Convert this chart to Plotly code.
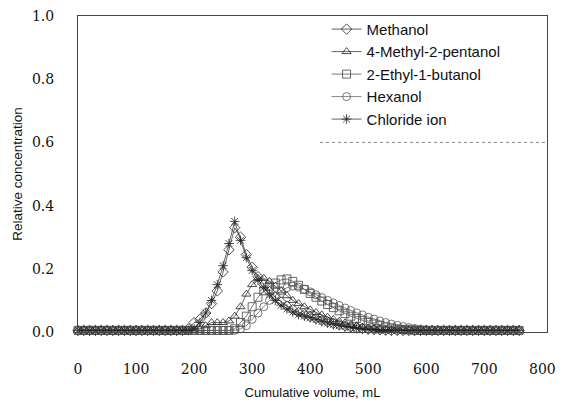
import plotly.graph_objects as go

volume = [0, 10, 20, 30, 40, 50, 60, 70, 80, 90, 100, 110, 120, 130, 140, 150, 160, 170, 180,
          190, 200, 210, 220, 230, 240, 250, 260, 270, 280, 290, 300, 310, 320, 330, 340, 350,
          360, 370, 380, 390, 400, 410, 420, 430, 440, 450, 460, 470, 480, 490, 500, 510, 520,
          530, 540, 550, 560, 570, 580, 590, 600, 610, 620, 630, 640, 650, 660, 670, 680, 690,
          700, 710, 720, 730, 740, 750, 760]

base = [0.005] * 19

methanol = base + [0.01, 0.03, 0.04, 0.06, 0.09, 0.13, 0.19, 0.26, 0.33, 0.30, 0.245, 0.205,
                   0.175, 0.15, 0.128, 0.11, 0.095, 0.082, 0.071, 0.062, 0.055, 0.049, 0.043,
                   0.037, 0.032, 0.027, 0.023, 0.019, 0.016, 0.013, 0.011, 0.009, 0.008, 0.007,
                   0.006] + [0.005] * 23

methylpentanol = base + [0.005, 0.005, 0.01, 0.02, 0.03, 0.03, 0.03, 0.035, 0.05, 0.08, 0.12,
                         0.15, 0.17, 0.17, 0.16, 0.145, 0.13, 0.115, 0.10, 0.09, 0.08, 0.07,
                         0.062, 0.054, 0.047, 0.04, 0.034, 0.029, 0.024, 0.02, 0.016, 0.013,
                         0.01, 0.008, 0.007, 0.006] + [0.005] * 22

ethylbutanol = base + [0.005] * 8 + [0.01, 0.03, 0.05, 0.08, 0.11, 0.13, 0.145, 0.155, 0.165,
                                     0.168, 0.16, 0.148, 0.135, 0.122, 0.11, 0.098, 0.087,
                                     0.077, 0.067, 0.058, 0.05, 0.043, 0.036, 0.03, 0.025,
                                     0.02, 0.016, 0.013, 0.01, 0.008, 0.007, 0.006] + [0.005] * 18

hexanol = base + [0.005] * 9 + [0.01, 0.02, 0.04, 0.06, 0.08, 0.10, 0.115, 0.13, 0.14, 0.145,
                                0.142, 0.135, 0.127, 0.118, 0.109, 0.1, 0.092, 0.084, 0.076,
                                0.068, 0.061, 0.054, 0.047, 0.041, 0.035, 0.03, 0.025, 0.021,
                                0.017, 0.014, 0.011, 0.009, 0.007, 0.006] + [0.005] * 15

chloride = base + [0.005, 0.01, 0.03, 0.06, 0.10, 0.15, 0.21, 0.28, 0.35, 0.29, 0.235, 0.195,
                   0.165, 0.14, 0.12, 0.10, 0.085, 0.073, 0.063, 0.055, 0.05, 0.045, 0.039,
                   0.033, 0.028, 0.024, 0.02, 0.017, 0.014, 0.011, 0.009, 0.008, 0.007,
                   0.006] + [0.005] * 24

series = [
    ("Methanol", methanol, "diamond-open", "#222222"),
    ("4-Methyl-2-pentanol", methylpentanol, "triangle-up-open", "#222222"),
    ("2-Ethyl-1-butanol", ethylbutanol, "square-open", "#444444"),
    ("Hexanol", hexanol, "circle-open", "#555555"),
    ("Chloride ion", chloride, "asterisk-open", "#222222"),
]

fig = go.Figure()
for name, vals, sym, col in series:
    fig.add_trace(go.Scatter(
        x=volume, y=vals, name=name, mode="lines+markers",
        line=dict(color=col, width=0.7),
        marker=dict(symbol=sym, size=8, color=col, line=dict(color=col, width=0.8)),
        cliponaxis=False,
    ))

serif = "DejaVu Serif"
sans = "Liberation Sans"

fig.update_layout(
    width=566, height=407,
    margin=dict(l=78, r=19, t=16, b=75, autoexpand=False),
    paper_bgcolor="white", plot_bgcolor="white",
    font=dict(family=sans),
    showlegend=True,
    legend=dict(
        x=0.53, y=1.01, xanchor="left", yanchor="top",
        bgcolor="rgba(255,255,255,0)", borderwidth=0,
        font=dict(family=sans, size=15, color="#111"),
        tracegroupgap=0,
    ),
    xaxis=dict(
        range=[0, 808], tickvals=[0, 100, 200, 300, 400, 500, 600, 700, 800],
        showgrid=False, zeroline=False, automargin=False,
        showline=True, linecolor="#444", linewidth=1, mirror=True,
        ticks="outside", ticklen=24, tickcolor="rgba(0,0,0,0)",
        tickfont=dict(family=serif, size=14, color="#111"),
        title=dict(text="Cumulative volume, mL", font=dict(family=sans, size=13, color="#111"),
                   standoff=12),
    ),
    yaxis=dict(
        range=[0, 1.0], tickvals=[0, 0.2, 0.4, 0.6, 0.8, 1.0], tickformat=".1f",
        showgrid=False, zeroline=False, automargin=False,
        showline=True, linecolor="#444", linewidth=1, mirror=True,
        ticks="outside", ticklen=20, tickcolor="rgba(0,0,0,0)",
        tickfont=dict(family=serif, size=14, color="#111"),
        title=dict(text="Relative concentration", font=dict(family=sans, size=13.5, color="#111"),
                   standoff=6),
    ),
    shapes=[dict(type="line", xref="paper", yref="y", x0=0.516, x1=1.0, y0=0.6, y1=0.6,
                 line=dict(color="#888", width=1, dash="dot"))],
)

fig.write_html("out.html")
